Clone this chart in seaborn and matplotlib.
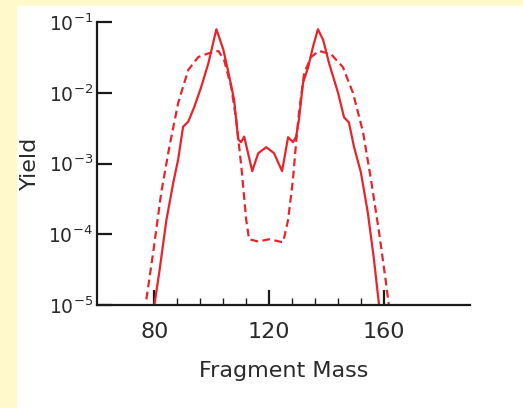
import matplotlib
matplotlib.use("Agg")
import matplotlib.pyplot as plt
from matplotlib.patches import Rectangle
from matplotlib.ticker import FixedLocator, NullLocator, LogLocator
import seaborn as sns

# Data
solid_mass = [80.0, 81.7, 84.2, 86.6, 88.3, 90.0, 91.8, 93.9, 96.3, 98.8, 101.6, 104.0,
              106.1, 107.8, 109.2, 110.2, 111.3, 114.1, 116.2, 119.0, 121.7, 124.5,
              126.6, 128.3, 129.4, 130.4, 131.8, 133.6, 135.3, 137.0, 138.8, 140.9,
              144.0, 146.1, 147.8, 149.6, 152.0, 154.4, 156.5, 158.3]
solid_yield = [1.0e-5, 2.9e-5, 1.6e-4, 5.4e-4, 1.15e-3, 3.3e-3, 3.9e-3, 6.3e-3, 1.2e-2, 2.6e-2,
               7.9e-2, 4.1e-2, 1.7e-2, 7.9e-3, 2.2e-3, 2.0e-3, 2.4e-3, 7.8e-4, 1.4e-3, 1.7e-3,
               1.4e-3, 7.8e-4, 2.35e-3, 2.0e-3, 2.4e-3, 4.2e-3, 1.38e-2, 2.3e-2, 4.5e-2,
               7.9e-2, 5.6e-2, 2.6e-2, 1.0e-2, 4.5e-3, 3.8e-3, 1.7e-3, 7.4e-4, 2.0e-4,
               4.5e-5, 1.0e-5]

dashed_mass = [77.2, 79.6, 82.4, 85.2, 88.3, 91.8, 95.3, 98.8, 102.3, 104.3, 106.8, 108.5,
               110.3, 112.0, 113.0, 116.2, 120.0, 124.2, 124.9, 126.6, 128.3, 129.4, 130.4,
               132.2, 134.6, 137.4, 141.6, 145.7, 149.2, 152.7, 155.5, 158.3, 160.7, 161.7]
dashed_yield = [1.2e-5, 5.6e-5, 3.9e-4, 1.7e-3, 7.2e-3, 2.1e-2, 3.2e-2, 3.6e-2, 3.9e-2, 2.9e-2,
                1.2e-2, 4.2e-3, 9.1e-4, 1.6e-4, 8.5e-5, 7.9e-5, 8.5e-5, 7.8e-5, 7.8e-5, 1.6e-4,
                5.9e-4, 2.0e-3, 5.2e-3, 1.9e-2, 3.2e-2, 3.9e-2, 3.5e-2, 2.3e-2, 1.0e-2, 2.8e-3,
                5.9e-4, 1.07e-4, 2.1e-5, 1.0e-5]

x_major = [80, 120, 160]
x_minor = [88, 96, 104, 112, 128, 136, 144, 152]
x_labels = ["80", "120", "160"]

sns.set_style("white")
plt.rcParams['font.family'] = ['DejaVu Sans']

fig = plt.figure(figsize=(5.23, 4.08), dpi=100)
fig.patch.set_facecolor("white")
bg = "#FFF9CC"
fig.patches.append(Rectangle((0, 0), 17 / 523, 1, transform=fig.transFigure,
                             facecolor=bg, edgecolor="none", zorder=0))
fig.patches.append(Rectangle((0, 1 - 6 / 408), 1, 6 / 408, transform=fig.transFigure,
                             facecolor=bg, edgecolor="none", zorder=0))

ax = fig.add_axes([97 / 523, 1 - 305 / 408, (470 - 97) / 523, (305 - 22) / 408])
ax.set_facecolor("white")
ax.set_yscale("log")

red = "#E8242B"
sns.lineplot(x=solid_mass, y=solid_yield, ax=ax, color=red, linewidth=1.6, sort=False)
sns.lineplot(x=dashed_mass, y=dashed_yield, ax=ax, color=red, linewidth=1.6,
             linestyle=(0, (3.5, 2.0)), sort=False)

ax.set_xlim(60, 190)

ax.xaxis.set_major_locator(FixedLocator(x_major))
ax.set_xticklabels(x_labels)
ax.xaxis.set_minor_locator(FixedLocator(x_minor))
ax.yaxis.set_major_locator(LogLocator(base=10, numticks=10))
ax.yaxis.set_minor_locator(NullLocator())
ax.set_ylim(1e-5, 1e-1)

for s in ["top", "right"]:
    ax.spines[s].set_visible(False)
for s in ["left", "bottom"]:
    ax.spines[s].set_linewidth(1.6)
    ax.spines[s].set_color("#1a1a1a")

ax.tick_params(axis="x", which="major", bottom=True, direction="in", length=11, width=1.6,
               color="#1a1a1a", labelsize=16, pad=12, labelcolor="#2a2a2a")
ax.tick_params(axis="x", which="minor", bottom=True, direction="in", length=5, width=1.0,
               color="#1a1a1a")
ax.tick_params(axis="y", which="major", left=True, direction="in", length=11, width=1.6,
               color="#1a1a1a", labelsize=13.5, pad=3, labelcolor="#2a2a2a")

ax.set_xlabel("Fragment Mass", fontsize=16, labelpad=14, color="#2a2a2a")
ax.set_ylabel("Yield", fontsize=16, labelpad=6, color="#2a2a2a")

fig.savefig("out.png", dpi=100, facecolor=fig.get_facecolor())
